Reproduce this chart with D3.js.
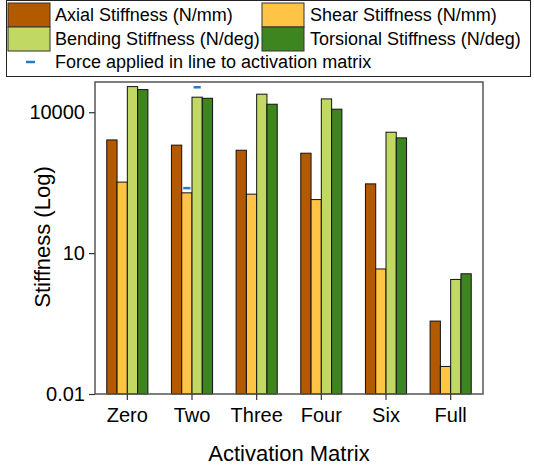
<!DOCTYPE html>
<html>
<head>
<meta charset="utf-8">
<script src="https://cdn.jsdelivr.net/npm/d3@7"></script>
<style>
  body { margin: 0; background: #fff; }
  svg { font-family: Arial, "Liberation Sans", sans-serif; }
</style>
</head>
<body>
<div id="chart"></div>
<script>
// --- Daten ---
const categories = ["Zero", "Two", "Three", "Four", "Six", "Full"];
const seriesNames = ["Axial Stiffness (N/mm)", "Shear Stiffness (N/mm)", "Bending Stiffness (N/deg)", "Torsional Stiffness (N/deg)"];
const axial = [2570, 1990, 1550, 1340, 298, 0.357];
const shear = [325, 192, 180, 138, 4.6, 0.0386];
const bending = [35100, 20900, 24200, 19200, 3750, 2.75];
const torsional = [30300, 19800, 14800, 11600, 2840, 3.63];
// Markierungen "Force applied in line to activation matrix"
const markerCategory = ["Two", "Two"];
const markerSeries = [1, 2];
const markerValue = [242, 34000];
const yTicks = [0.01, 10, 10000];

const colors = ["#b35a00", "#ffc445", "#c1d962", "#3e8520"];
const allSeries = [axial, shear, bending, torsional];

const W = 534, H = 466;
const margin = { top: 82, right: 51, bottom: 72, left: 95 };
const width = W - margin.left - margin.right;
const height = H - margin.top - margin.bottom;

const svg = d3.select("#chart").append("svg")
  .attr("width", W).attr("height", H);

const g = svg.append("g")
  .attr("transform", `translate(${margin.left},${margin.top})`);

// Skalen
const x = d3.scaleBand().domain(categories).range([0, width]).padding(0);
const x1 = d3.scaleBand().domain(d3.range(4))
  .range([x.bandwidth() * 0.182, x.bandwidth() * 0.818]).padding(0);
const y = d3.scaleLog().domain([0.01, 44000]).range([height, 0]);

// Balken
allSeries.forEach((vals, s) => {
  g.selectAll(".bar" + s)
    .data(vals)
    .enter()
    .append("rect")
    .attr("x", (d, i) => x(categories[i]) + x1(s))
    .attr("y", d => y(d))
    .attr("width", x1.bandwidth())
    .attr("height", d => height - y(d))
    .attr("fill", colors[s])
    .attr("stroke", "#111")
    .attr("stroke-width", 1);
});

// blaue Markierungen
g.selectAll(".marker")
  .data(markerValue)
  .enter()
  .append("line")
  .attr("x1", (d, i) => x(markerCategory[i]) + x1(markerSeries[i]) + x1.bandwidth() * 0.15)
  .attr("x2", (d, i) => x(markerCategory[i]) + x1(markerSeries[i]) + x1.bandwidth() * 0.85)
  .attr("y1", d => y(d))
  .attr("y2", d => y(d))
  .attr("stroke", "#2a7bbf")
  .attr("stroke-width", 2.5);

// Rahmen
g.append("rect")
  .attr("width", width).attr("height", height)
  .attr("fill", "none").attr("stroke", "#555").attr("stroke-width", 1.5);

// Achsen
const yAxis = g.append("g")
  .call(d3.axisLeft(y).tickValues(yTicks).tickFormat(d3.format("~g")).tickSize(6).tickPadding(4));
const xAxis = g.append("g")
  .attr("transform", `translate(0,${height})`)
  .call(d3.axisBottom(x).tickSize(6).tickPadding(8));
[xAxis, yAxis].forEach(a => {
  a.select(".domain").remove();
  a.selectAll("line").attr("stroke", "#333").attr("stroke-width", 1.2);
  a.selectAll("text").attr("font-size", 20).attr("fill", "#000")
    .attr("font-family", "Arial, 'Liberation Sans', sans-serif");
});

// Achsentitel
svg.append("text")
  .attr("x", margin.left + width / 2).attr("y", 461)
  .attr("text-anchor", "middle").attr("font-size", 22)
  .text("Activation Matrix");
svg.append("text")
  .attr("transform", `translate(50,${margin.top + height / 2 - 1}) rotate(-90)`)
  .attr("text-anchor", "middle").attr("font-size", 22)
  .text("Stiffness (Log)");

// Legende
const leg = svg.append("g");
leg.append("rect")
  .attr("x", 6.5).attr("y", 0.5).attr("width", 524).attr("height", 76)
  .attr("fill", "#fff").attr("stroke", "#222").attr("stroke-width", 1);
const legX = [8, 262];
const legTextX = [55, 310];
seriesNames.forEach((name, s) => {
  const col = s % 2, row = Math.floor(s / 2);
  const cy = 15 + row * 24;
  leg.append("rect")
    .attr("x", legX[col]).attr("y", cy - 12).attr("width", 42).attr("height", 24)
    .attr("fill", colors[s]).attr("stroke", "#333").attr("stroke-width", 1);
  leg.append("text")
    .attr("x", legTextX[col]).attr("y", cy + 6)
    .attr("font-size", 18).text(name);
});
leg.append("line")
  .attr("x1", 26).attr("x2", 35).attr("y1", 62).attr("y2", 62)
  .attr("stroke", "#2a7bbf").attr("stroke-width", 2.5);
leg.append("text")
  .attr("x", 55).attr("y", 68).attr("font-size", 18)
  .text("Force applied in line to activation matrix");
</script>
</body>
</html>
